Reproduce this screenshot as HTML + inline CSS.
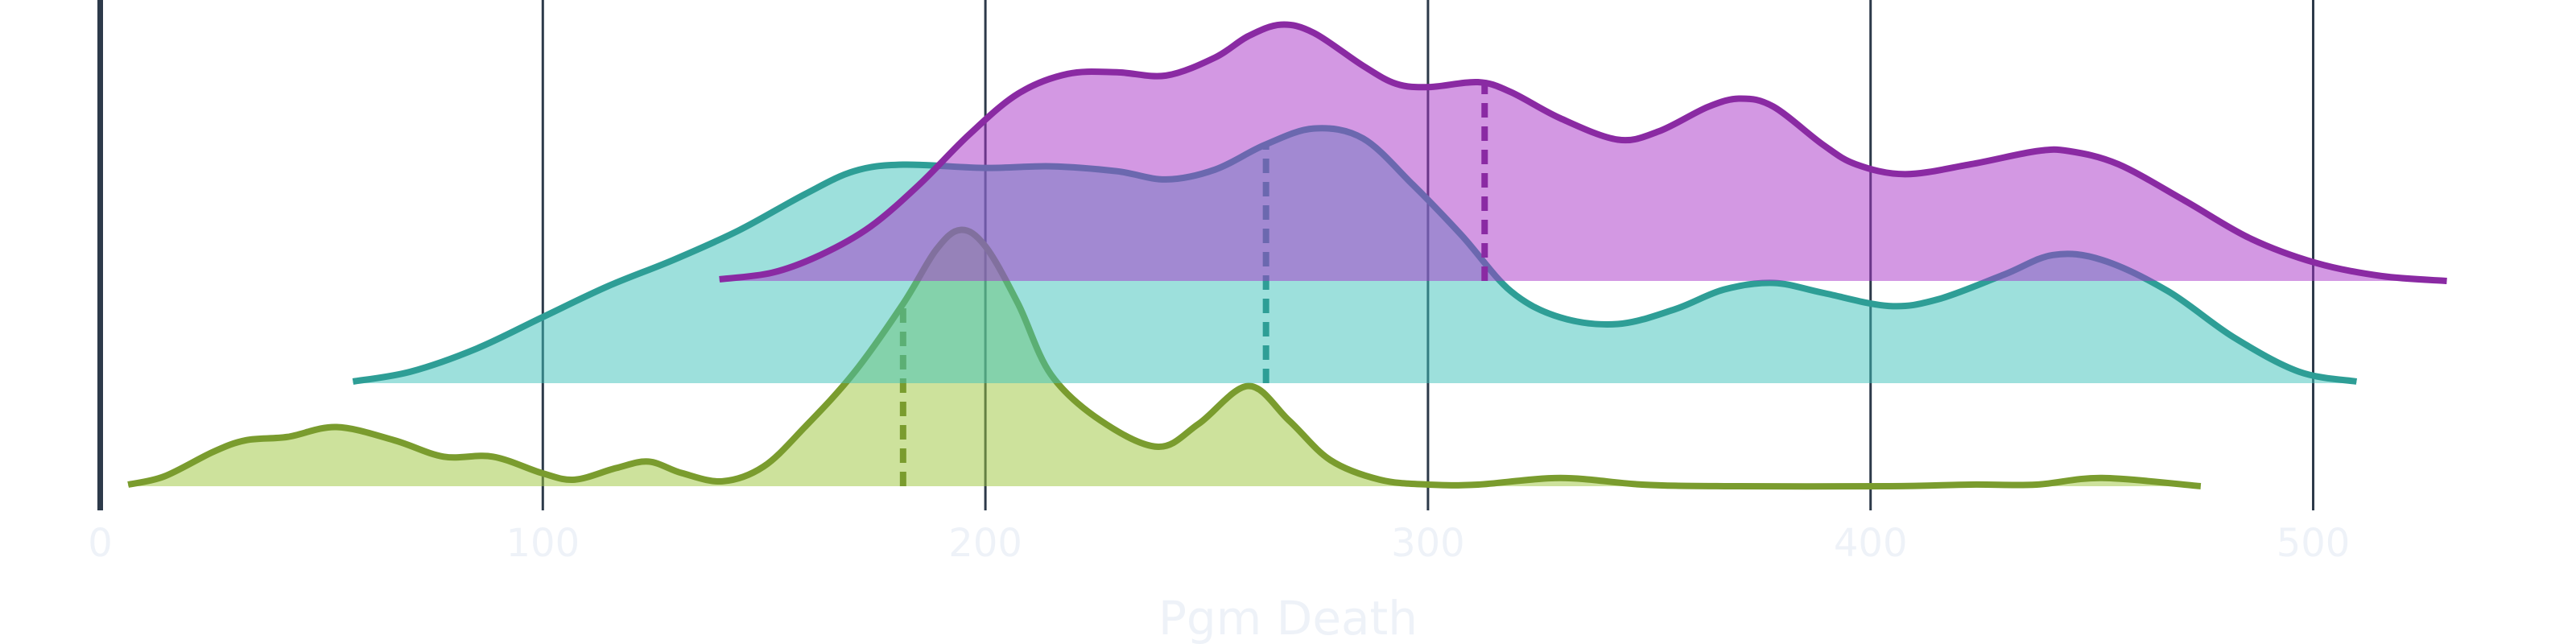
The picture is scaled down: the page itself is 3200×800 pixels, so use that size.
<!DOCTYPE html>
<html><head><meta charset="utf-8"><style>
html,body{margin:0;padding:0;background:#fff;}
svg{display:block;font-family:"DejaVu Sans","Liberation Sans",sans-serif;}
</style></head><body>
<svg id="chart" width="3200" height="800" viewBox="0 0 3200 800" xmlns="http://www.w3.org/2000/svg">
<g id="grid"></g>
<g id="ridges"></g>
<g id="axis"></g>
<text x="1600" y="788" text-anchor="middle" font-size="58" fill="#eef2f8">Pgm Death</text>
</svg>
<script>
const ticks = [0,100,200,300,400,500];
const purpleX = [139.9,151.8,162.9,174,185.2,196.3,207.4,218.6,229.7,240.8,251.9,259.4,266.8,274.2,285.3,292.8,300.2,311.3,318.7,329.9,342.9,352.1,363.3,370.7,378.1,389.2,396.7,407.8,422.6,437.5,444.9,456,470.9,485.7,500.6,515.4,530.2];
const purpleY = [1,5,16,33,59,89,114,126,127,125,136,149,156,151,131,120,118,121,115,99,86,91,106,111,106,83,71,65,71,79,79,71,49,26,11,3,0];
const tealX = [57.1,70.1,85,99.8,114.7,129.5,144.3,159.2,170.3,181.4,200,214.8,229.7,240.8,251.9,263.1,274.2,285.3,296.5,307.6,318.7,329.9,342.9,355.8,366.9,378.1,389.2,404.1,415.2,430.1,441.2,452.3,467.2,482,496.8,509.8];
const tealY = [1,7,21,40,59,75,93,115,129,133,131,132,129,124,130,145,155,149,121,90,56,40,36,45,57,61,55,47,51,66,78,75,56,28,7,1];
const greenX = [6.3,14.5,25.6,33,42.3,53.4,66.4,77.6,88.7,99.8,107.2,116.5,123.9,131.4,140.6,149.9,159.2,170.3,181.4,188.9,194.4,200,207.4,214.8,226,239,248.2,259.4,268.6,277.9,289.1,300.2,311.3,329.9,348.4,367,404.1,422.6,437.5,452.3,474.6];
const greenY = [1,6,21,28,30,36,28,18,18,8,4,11,15,8,3,12,36,69,111,144,156,146,111,68,40,24,38,61,40,16,4,1,1,5,1,0,0,1,1,5,0];
const medians = [181.4, 263.4, 312.8];

const NS="http://www.w3.org/2000/svg";
const xs = v => 124.5 + v*5.498;
const hs = h => h*2.041;
function el(t,a,p){const e=document.createElementNS(NS,t);for(const k in a)e.setAttribute(k,a[k]);p.appendChild(e);return e;}
function path(pts){
  let d=`M${pts[0][0]},${pts[0][1]}`;
  for(let i=0;i<pts.length-1;i++){
    const p0=pts[Math.max(0,i-1)],p1=pts[i],p2=pts[i+1],p3=pts[Math.min(pts.length-1,i+2)];
    const c1=[p1[0]+(p2[0]-p0[0])/6,p1[1]+(p2[1]-p0[1])/6];
    const c2=[p2[0]-(p3[0]-p1[0])/6,p2[1]-(p3[1]-p1[1])/6];
    d+=` C${c1[0]},${c1[1]} ${c2[0]},${c2[1]} ${p2[0]},${p2[1]}`;
  }
  return d;
}
function interp(X,Y,v){for(let i=0;i<X.length-1;i++){if(v>=X[i]&&v<=X[i+1]){const t=(v-X[i])/(X[i+1]-X[i]);return Y[i]+t*(Y[i+1]-Y[i]);}}return 0;}

const grid=document.getElementById('grid'), axis=document.getElementById('axis'), ridges=document.getElementById('ridges');
ticks.forEach(t=>{
  const g=el('line',{x1:xs(t),x2:xs(t),y1:0,y2:634,stroke:'#2d3a4a','stroke-width':t===0?7:3},grid);
  
  
  const tx=el('text',{x:xs(t),y:691,'text-anchor':'middle','font-size':48,fill:'#eef2f8'},axis);
  tx.textContent=t;
  
  
});
const series=[
  {name:'green',X:greenX,Y:greenY,base:604,fill:'rgb(155,197,57)',line:'#7a9c2e',med:medians[0]},
  {name:'teal',X:tealX,Y:tealY,base:476,fill:'rgb(60,193,185)',line:'#2e9e96',med:medians[1]},
  {name:'purple',X:purpleX,Y:purpleY,base:349,fill:'rgb(168,50,200)',line:'#8a2aa3',med:medians[2]}
];
series.forEach(s=>{
  const pts=s.X.map((x,i)=>[xs(x),s.base-hs(s.Y[i])]);
  const d=path(pts);
  const g=el('g',{},ridges);
  
  
  const a=el('path',{d:d+` L${pts[pts.length-1][0]},${s.base} L${pts[0][0]},${s.base} Z`,fill:s.fill,'fill-opacity':0.5},g);
  
  
  const my=s.base-hs(interp(s.X,s.Y,s.med));
  const m=el('line',{x1:xs(s.med),x2:xs(s.med),y1:s.base,y2:my,stroke:s.line,'stroke-width':8,'stroke-dasharray':'18 11'},g);
  
  
  const l=el('path',{d:d,fill:'none',stroke:s.line,'stroke-width':8,'stroke-linejoin':'round'},g);
  
  
});
</script>
</body></html>
